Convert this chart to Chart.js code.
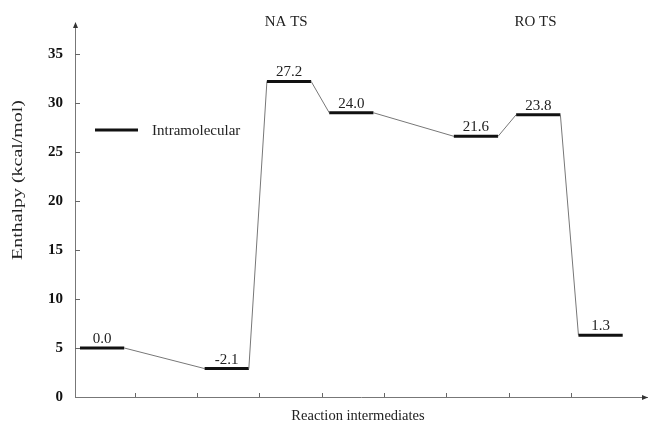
<!DOCTYPE html>
<html>
<head>
<meta charset="utf-8">
<script src="https://cdn.jsdelivr.net/npm/chart.js@4.4.1/dist/chart.umd.min.js"></script>
<style>
  html, body { margin: 0; padding: 0; background: #fff; }
  #wrap { width: 648px; height: 425px; }
</style>
</head>
<body>
<div id="wrap"><canvas id="chart"></canvas></div>
<script>
// reaction path: x slot of each intermediate and its enthalpy as placed on the axis
const steps = [0, 2, 3, 4, 6, 7, 8];
const enthalpy = [5.0, 2.9, 32.2, 29.0, 26.6, 28.8, 6.3];
const levelLabels = ["0.0", "-2.1", "27.2", "24.0", "21.6", "23.8", "1.3"];
const yTicks = [0, 5, 10, 15, 20, 25, 30, 35];
const xTicks = [1, 2, 3, 4, 5, 6, 7, 8];
const tsNames = ["NA TS", "RO TS"];
const tsSteps = [3, 7];
const seriesName = "Intramolecular";

const serif = "'Liberation Serif', 'Times New Roman', serif";
Chart.defaults.font.family = serif;

// each level is a short flat bar, joined to the next one by a thin line
const points = [];
steps.forEach((s, i) => {
  points.push({ x: s + 0.12, y: enthalpy[i] });
  points.push({ x: s + 0.83, y: enthalpy[i] });
});

const isLevel = (ctx) => ctx.p0DataIndex % 2 === 0;

const decor = {
  id: "decor",
  afterDraw(chart) {
    const { ctx, chartArea, scales } = chart;
    const x = scales.x, y = scales.y;
    const left = chartArea.left, bottom = chartArea.bottom;
    ctx.save();

    // inward tick marks
    ctx.strokeStyle = "#666";
    ctx.lineWidth = 1;
    ctx.beginPath();
    yTicks.forEach((v) => {
      if (v === 0) return;
      const py = Math.round(y.getPixelForValue(v)) + 0.5;
      ctx.moveTo(left, py);
      ctx.lineTo(left + 5, py);
    });
    xTicks.forEach((v) => {
      const px = Math.round(x.getPixelForValue(v)) + 0.5;
      ctx.moveTo(px, bottom);
      ctx.lineTo(px, bottom - 4);
    });
    ctx.stroke();

    // arrow heads
    ctx.fillStyle = "#333";
    ctx.beginPath();
    ctx.moveTo(left + 0.5, chartArea.top - 1);
    ctx.lineTo(left - 2, chartArea.top + 5);
    ctx.lineTo(left + 3, chartArea.top + 5);
    ctx.closePath();
    ctx.fill();
    ctx.beginPath();
    ctx.moveTo(chartArea.right + 1, bottom + 0.5);
    ctx.lineTo(chartArea.right - 5, bottom - 2);
    ctx.lineTo(chartArea.right - 5, bottom + 3);
    ctx.closePath();
    ctx.fill();

    // value labels above each level
    ctx.fillStyle = "#222";
    ctx.font = "15px " + serif;
    ctx.textAlign = "center";
    ctx.textBaseline = "alphabetic";
    steps.forEach((s, i) => {
      const cx = x.getPixelForValue(s + 0.475);
      const cy = y.getPixelForValue(enthalpy[i]);
      ctx.fillText(levelLabels[i], cx, cy - 5);
    });

    // transition state names
    ctx.textBaseline = "middle";
    tsSteps.forEach((s, i) => {
      ctx.fillText(tsNames[i], x.getPixelForValue(s + 0.43), 22);
    });

    // legend
    ctx.strokeStyle = "#111";
    ctx.lineWidth = 3;
    ctx.beginPath();
    ctx.moveTo(95, 130);
    ctx.lineTo(138, 130);
    ctx.stroke();
    ctx.textAlign = "left";
    ctx.fillText(seriesName, 152, 131);

    // axis titles
    ctx.textAlign = "center";
    ctx.font = "14.5px " + serif;
    ctx.fillText("Reaction intermediates", 358, 416);

    ctx.font = "15px " + serif;
    const t = "Enthalpy (kcal/mol)";
    const w = ctx.measureText(t).width;
    ctx.translate(18, 180);
    ctx.rotate(-Math.PI / 2);
    ctx.scale(160 / w, 1);
    ctx.fillText(t, 0, 0);
    ctx.restore();
  },
};

new Chart(document.getElementById("chart"), {
  type: "line",
  data: {
    datasets: [{
      label: seriesName,
      data: points,
      borderColor: "#111",
      borderWidth: 3,
      pointRadius: 0,
      tension: 0,
      segment: {
        borderWidth: (ctx) => (isLevel(ctx) ? 3 : 1),
        borderColor: (ctx) => (isLevel(ctx) ? "#111" : "#777"),
      },
    }],
  },
  options: {
    responsive: true,
    maintainAspectRatio: false,
    animation: false,
    layout: { padding: { top: 23, right: 1, left: 0, bottom: 0 } },
    plugins: {
      legend: { display: false },
      tooltip: { enabled: false },
    },
    scales: {
      x: {
        type: "linear",
        min: 0.04,
        max: 9.22,
        grid: { display: false },
        border: { display: true, color: "#777", width: 1 },
        ticks: { display: false },
        afterFit: (scale) => { scale.height = 28; },
      },
      y: {
        min: 0,
        max: 38.16,
        grid: { display: false, drawTicks: false },
        border: { display: true, color: "#777", width: 1 },
        ticks: {
          color: "#111",
          padding: 12,
          font: { size: 15, weight: "bold", family: serif },
        },
        afterBuildTicks: (scale) => { scale.ticks = yTicks.map((v) => ({ value: v })); },
        afterFit: (scale) => { scale.width = 75; },
      },
    },
  },
  plugins: [decor],
});
</script>
</body>
</html>
